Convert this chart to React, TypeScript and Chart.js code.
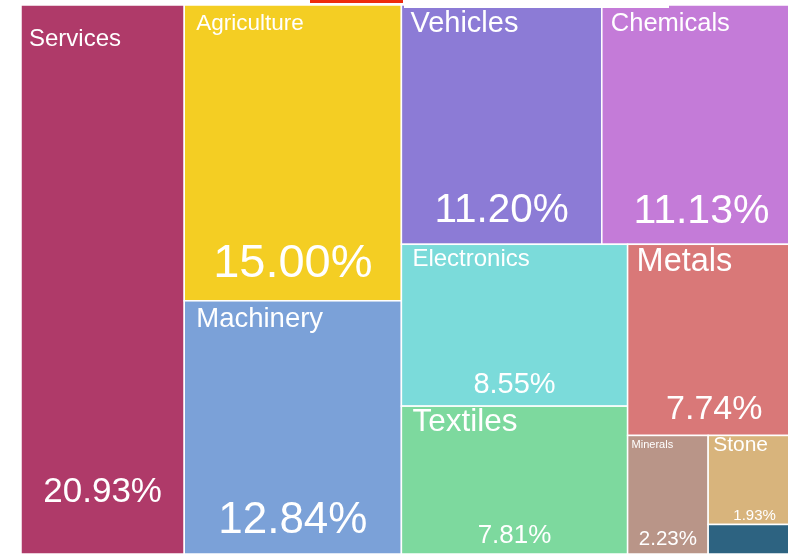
import React, { useEffect, useRef } from "react";
import { Chart, registerables } from "chart.js";

Chart.register(...registerables);

// ---- data ----
const SECTORS = [
  "Services",
  "Agriculture",
  "Machinery",
  "Vehicles",
  "Chemicals",
  "Electronics",
  "Textiles",
  "Metals",
  "Minerals",
  "Stone",
  "Other",
];
const SHARES = [20.93, 15.0, 12.84, 11.2, 11.13, 8.55, 7.81, 7.74, 2.23, 1.93, 0.64];
const SHOW_TEXT = [true, true, true, true, true, true, true, true, true, true, false];

// ---- layout / style config ----
const STRIP_SIZES = [1, 2, 2, 2, 1, 1, 1, 1];
const TREE_W = 780;
const TREE_H = 549;
const COLORS = [
  "#af3a69",
  "#f4ce23",
  "#7ba1d8",
  "#8c7bd6",
  "#c47bd8",
  "#7bdbda",
  "#7dd99e",
  "#d97878",
  "#b99588",
  "#d8b47c",
  "#2d6381",
];
const LABEL_SIZE = [24, 22.5, 27.5, 29, 25.5, 24, 31.5, 32.5, 11, 21, 0];
const VALUE_SIZE = [35, 47, 44, 40.5, 41, 29, 26, 34, 20.5, 15, 0];
const LABEL_DX = [8, 12, 12, 9, 9, 11, 11, 9, 4, 5, 0];
const LABEL_DY = [32, 17, 16.5, 17, 16.5, 13, 14, 15.5, 8.5, 8, 0];
const VALUE_POS = [0.882, 0.862, 0.854, 0.848, 0.848, 0.857, 0.865, 0.851, 0.861, 0.888, 0.5];
const CAP_MID = 0.358;
const FONT = '"Liberation Sans", Arial, Helvetica, sans-serif';

type Rect = { x0: number; y0: number; x1: number; y1: number };

function layoutStrips(values: number[], strips: number[], W: number, H: number): Rect[] {
  const rects: Rect[] = [];
  let x = 0,
    y = 0,
    w = W,
    h = H,
    i = 0;
  let remaining = values.reduce((a, b) => a + b, 0);
  for (const n of strips) {
    const items = values.slice(i, i + n);
    if (!items.length) break;
    const s = items.reduce((a, b) => a + b, 0);
    if (w >= h) {
      const sw = remaining > 0 ? (w * s) / remaining : w;
      let yy = y;
      items.forEach((v) => {
        const ih = (h * v) / s;
        rects.push({ x0: x, y0: yy, x1: x + sw, y1: yy + ih });
        yy += ih;
      });
      x += sw;
      w -= sw;
    } else {
      const sh = remaining > 0 ? (h * s) / remaining : h;
      let xx = x;
      items.forEach((v) => {
        const iw = (w * v) / s;
        rects.push({ x0: xx, y0: y, x1: xx + iw, y1: y + sh });
        xx += iw;
      });
      y += sh;
      h -= sh;
    }
    remaining -= s;
    i += n;
  }
  return rects;
}

const CELLS = layoutStrips(SHARES, STRIP_SIZES, TREE_W, TREE_H);

const treemapPlugin = {
  id: "treemapCells",
  beforeDatasetsDraw(chart: any) {
    const ctx = chart.ctx as CanvasRenderingContext2D;
    const xs = chart.scales.x;
    const ys = chart.scales.y;
    ctx.save();
    CELLS.forEach((r, i) => {
      const px0 = xs.getPixelForValue(r.x0);
      const px1 = xs.getPixelForValue(r.x1);
      const py0 = ys.getPixelForValue(r.y0);
      const py1 = ys.getPixelForValue(r.y1);
      const pw = px1 - px0;
      const ph = py1 - py0;
      ctx.fillStyle = COLORS[i];
      ctx.fillRect(px0, py0, pw, ph);
      ctx.strokeStyle = "#ffffff";
      ctx.lineWidth = 1.5;
      ctx.strokeRect(px0, py0, pw, ph);
      if (!SHOW_TEXT[i]) return;
      ctx.fillStyle = "#ffffff";
      ctx.textBaseline = "alphabetic";
      ctx.textAlign = "left";
      ctx.font = `${LABEL_SIZE[i]}px ${FONT}`;
      ctx.fillText(SECTORS[i], px0 + LABEL_DX[i], py0 + LABEL_DY[i] + CAP_MID * LABEL_SIZE[i]);
      ctx.textAlign = "center";
      ctx.font = `${VALUE_SIZE[i]}px ${FONT}`;
      ctx.fillText(
        SHARES[i].toFixed(2) + "%",
        (px0 + px1) / 2,
        py0 + VALUE_POS[i] * ph + CAP_MID * VALUE_SIZE[i]
      );
    });
    ctx.restore();
  },
};

export default function App() {
  const ref = useRef<HTMLCanvasElement | null>(null);
  useEffect(() => {
    if (!ref.current) return;
    const chart = new Chart(ref.current, {
      type: "scatter",
      data: {
        labels: SECTORS,
        datasets: [
          {
            label: "Share",
            data: CELLS.map((r) => ({ x: (r.x0 + r.x1) / 2, y: (r.y0 + r.y1) / 2 })),
            pointRadius: 0,
            pointHoverRadius: 0,
          },
        ],
      },
      options: {
        animation: false,
        responsive: false,
        events: [],
        layout: { padding: 0 },
        scales: {
          x: { type: "linear", min: 0, max: TREE_W, display: false },
          y: { type: "linear", min: 0, max: TREE_H, reverse: true, display: false },
        },
        plugins: { legend: { display: false }, tooltip: { enabled: false } },
      },
      plugins: [treemapPlugin],
    });
    return () => chart.destroy();
  }, []);

  return (
    <div
      style={{
        position: "fixed",
        left: 0,
        top: 0,
        width: 788,
        height: 554,
        overflow: "hidden",
        background: "#ffffff",
      }}
    >
      <div style={{ position: "absolute", left: 21, top: 5, width: TREE_W, height: TREE_H }}>
        <canvas ref={ref} width={TREE_W} height={TREE_H} style={{ display: "block" }} />
      </div>
      <div style={{ position: "absolute", left: 310, top: 0, width: 93, height: 3, background: "#ee2c0c" }} />
      <div style={{ position: "absolute", left: 404, top: 0, width: 265, height: 8, background: "#ffffff" }} />
    </div>
  );
}
